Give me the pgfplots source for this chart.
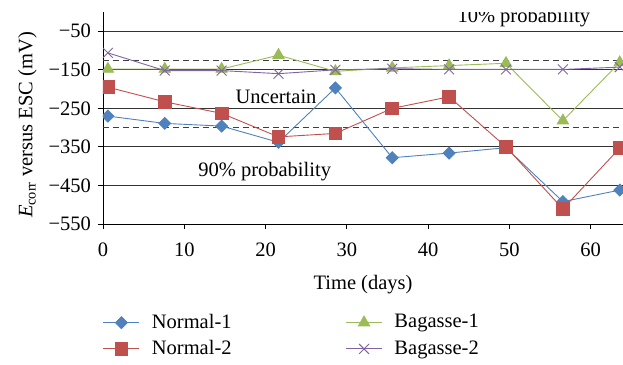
\documentclass[border=0pt]{standalone}
\usepackage{pgfplots}
\pgfplotsset{compat=1.18}
\usepackage{fontspec}
\setmainfont{Liberation Serif}
\definecolor{cblue}{HTML}{4F81BD}
\definecolor{cred}{HTML}{C0504D}
\definecolor{cgreen}{HTML}{9BBB59}
\definecolor{cpurple}{HTML}{8064A2}
\newcommand{\bigf}{\fontsize{20.5}{24}\selectfont}
\begin{document}
\bigf
\begin{tikzpicture}
\begin{axis}[
  scale only axis, width=520pt, height=212pt,
  xmin=0, xmax=64, ymin=-550, ymax=0,
  axis x line*=bottom, axis y line*=left,
  axis line style={black, line width=0.9pt, -},
  xtick={0,10,...,60},
  ytick={-550,-450,-350,-250,-150,-50},
  yticklabels={−550,−450,−350,−250,−150,−50},
  tick align=outside, major tick length=5pt,
  tick style={black, line width=0.9pt},
  ymajorgrids, grid style={black!80, line width=0.9pt},
  /pgf/number format/assume math mode=true,
  tick label style={font=\bigf},
  xticklabel style={yshift=-7pt},
  label style={font=\bigf},
  xlabel={Time (days)},
  ylabel={\textit{E}\textsubscript{corr} versus ESC (mV)},
  xlabel style={yshift=-5pt},
  ylabel style={at={(ticklabel cs:0.467)}, yshift=-2pt},
  clip marker paths=true,
  legend columns=2, transpose legend,
  legend style={at={(0,-0.415)}, anchor=north west, draw=none, fill=none,
    font=\bigf, inner sep=0pt, outer sep=0pt,
    /tikz/every odd column/.append style={column sep=10pt},
    /tikz/every even column/.append style={column sep=112pt},
    row sep=5pt},
  legend cell align=left,
  legend image code/.code={\draw[mark repeat=2,mark phase=2] plot coordinates {(0pt,0pt) (18pt,0pt) (36pt,0pt)};},
]
\coordinate (SW) at (rel axis cs:0,0);
\coordinate (NE) at (rel axis cs:1,1);
\addplot[black!75, line width=0.9pt, dash pattern=on 6pt off 4pt, forget plot] coordinates {(0,-125) (64,-125)};
\addplot[black!75, line width=0.9pt, dash pattern=on 6pt off 4pt, forget plot] coordinates {(0,-300) (64,-300)};

\addplot[cblue, line width=0.9pt, mark=square*, mark size=4.2pt, mark options={rotate=45, fill=cblue, draw=cblue}] coordinates {
(0.6,-270) (7.6,-289) (14.6,-296) (21.6,-338) (28.6,-197) (35.6,-378) (42.6,-366) (49.6,-352) (56.6,-492) (63.6,-462)};
\addlegendentry{Normal-1}
\addplot[cred, line width=0.9pt, mark=square*, mark size=6.4pt, mark options={fill=cred, draw=cred}] coordinates {
(0.6,-195) (7.6,-233) (14.6,-263) (21.6,-324) (28.6,-315) (35.6,-250) (42.6,-220) (49.6,-350) (56.6,-511) (63.6,-353)};
\addlegendentry{Normal-2}
\addplot[cgreen, line width=0.9pt, mark=triangle*, mark size=6.5pt, mark options={fill=cgreen, draw=cgreen}] coordinates {
(0.6,-148) (7.6,-148) (14.6,-148) (21.6,-112) (28.6,-154) (35.6,-145) (42.6,-139) (49.6,-133) (56.6,-282) (63.6,-131)};
\addlegendentry{Bagasse-1}
\addplot[cpurple, line width=0.9pt, mark=x, mark size=7pt, mark options={draw=cpurple, line width=0.9pt}] coordinates {
(0.6,-106) (7.6,-152) (14.6,-152) (21.6,-160) (28.6,-150) (35.6,-147) (42.6,-149) (49.6,-149) (56.6,-149) (63.6,-143)};
\addlegendentry{Bagasse-2}

\node[font=\bigf] at (axis cs:51.8,-14) {10\% probability};
\node[font=\bigf] at (axis cs:21.3,-219) {Uncertain};
\node[font=\bigf] at (axis cs:19.9,-415) {90\% probability};
\end{axis}
\pgfresetboundingbox
\path ([xshift=-103pt,yshift=-140pt]SW) rectangle ([yshift=12pt]NE);
\end{tikzpicture}
\end{document}
